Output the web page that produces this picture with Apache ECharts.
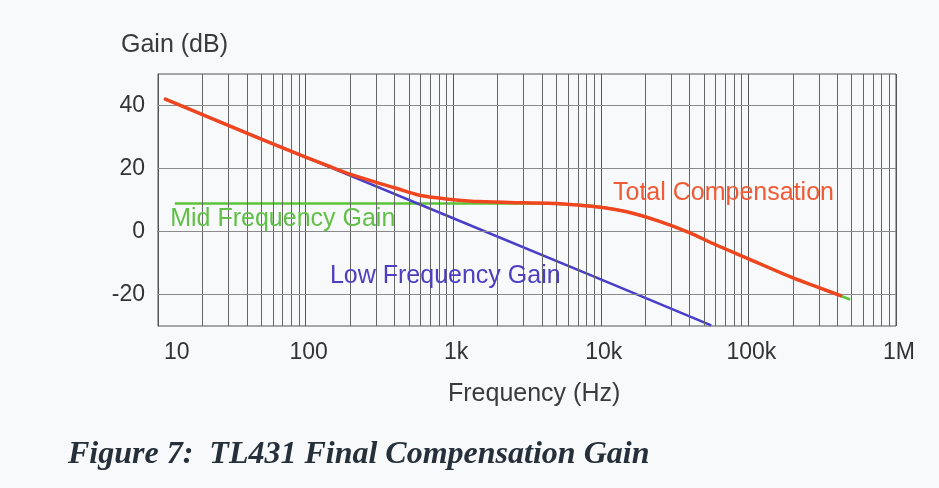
<!DOCTYPE html>
<html>
<head>
<meta charset="utf-8">
<script src="https://cdn.jsdelivr.net/npm/echarts@6/dist/echarts.min.js"></script>
<style>
html,body{margin:0;padding:0;background:#f8f9fb;}
#chart{width:939px;height:488px;}
</style>
</head>
<body>
<div id="chart"></div>
<script>
// ---- data (frequency in Hz, gain in dB) ----
const totalFreq = [11, 20, 50, 100, 150, 200, 300, 400, 590, 800, 1000, 1500, 3000, 5000, 7000, 10000, 15500, 25000, 39000, 60000, 95000, 195000, 300000, 430000];
const totalGain = [42.2, 37.1, 29.3, 23.6, 20.4, 18.2, 15.6, 13.9, 11.5, 10.6, 10.1, 9.5, 9.1, 8.9, 8.4, 7.7, 6.1, 3.2, -0.2, -4.2, -8.2, -14.5, -17.8, -20.5];

const lowFreq = [11, 100, 1000, 10000, 56000];
const lowGain = [42.2, 23.6, 4.2, -15.2, -29.8];

const midFreq = [13, 3000, 7000, 10000, 15500, 25000, 39000, 60000, 95000, 195000, 300000, 490000];
const midGain = [8.9, 8.9, 8.5, 7.8, 6.1, 3.2, -0.2, -4.2, -8.2, -14.5, -17.8, -21.6];

const xTickValues = [10, 100, 1000, 10000, 100000, 1000000];
const xTickLabels = ['10', '100', '1k', '10k', '100k', '1M'];
const yTickLabels = [40, 20, 0, -20];
const minorMultipliers = [2, 3, 4, 5, 6, 7, 8, 9];

const seriesNames = ['Mid Frequency Gain', 'Low Frequency Gain', 'Total Compensation'];
// label anchors [freq, dB]
const midLabelAt = [12, 3.8];
const lowLabelAt = [145, -14.3];
const totalLabelAt = [12000, 12.1];

// ---- build ----
const pair = (xs, ys) => xs.map((x, i) => [x, ys[i]]);
const minorGrid = [];
xTickValues.slice(0, -1).forEach(d => minorMultipliers.forEach(m => minorGrid.push(d * m)));

const chart = echarts.init(document.getElementById('chart'), null, {renderer: 'canvas'});
const FONT = 'Liberation Sans, Arial, sans-serif';

function labelPoint(coord, text, color) {
  return {
    symbol: 'circle', symbolSize: 1, silent: true,
    data: [{coord: coord, value: text}],
    label: {show: true, position: 'right', distance: 0, formatter: text,
      color: color, fontSize: 25, fontFamily: FONT},
    itemStyle: {color: 'rgba(0,0,0,0)'},
    emphasis: {disabled: true},
    animation: false
  };
}

const option = {
  backgroundColor: '#f8f9fb',
  animation: false,
  grid: {left: 158, right: 43, top: 74, bottom: 162, show: true,
    borderColor: '#555', borderWidth: 1, backgroundColor: 'transparent'},
  title: {
    text: 'Figure 7:  TL431 Final Compensation Gain',
    left: 63, top: 434,
    textStyle: {fontFamily: 'Liberation Serif, Times New Roman, serif', fontStyle: 'italic',
      fontWeight: 'bold', fontSize: 32, color: '#26303a'}
  },
  graphic: [
    {type: 'text', x: 121, y: 45, silent: true,
      style: {text: 'Gain (dB)', font: '25px ' + FONT, fill: '#3a3a3a', verticalAlign: 'middle', align: 'left'}},
    {type: 'text', x: 448, y: 394, silent: true,
      style: {text: 'Frequency (Hz)', font: '25px ' + FONT, fill: '#3a3a3a', verticalAlign: 'middle', align: 'left'}}
  ],
  xAxis: {
    type: 'log', logBase: 10, min: 10, max: 1000000,
    axisLine: {show: true, lineStyle: {color: '#555', width: 1}},
    axisTick: {show: false},
    splitLine: {show: true, lineStyle: {color: '#555', width: 1}},
    axisLabel: {
      margin: 15, fontSize: 23, fontFamily: FONT, color: '#333',
      padding: [0, 0, 0, 6], alignMinLabel: 'left',
      formatter: v => {
        const i = xTickValues.findIndex(t => Math.abs(Math.log10(t) - Math.log10(v)) < 1e-6);
        return i >= 0 ? xTickLabels[i] : '';
      }
    }
  },
  yAxis: {
    type: 'value', min: -30, max: 50, interval: 10,
    axisLine: {show: true, lineStyle: {color: '#555', width: 1}},
    axisTick: {show: false},
    splitLine: {show: false},
    axisLabel: {
      margin: 13, fontSize: 23, fontFamily: FONT, color: '#333',
      formatter: v => yTickLabels.indexOf(v) >= 0 ? String(v) : ''
    }
  },
  series: [
    {
      name: seriesNames[0], type: 'line', data: pair(midFreq, midGain),
      showSymbol: false, smooth: 0.35, z: 3,
      lineStyle: {color: '#5cc43a', width: 2.5}, itemStyle: {color: '#5cc43a'},
      markLine: {
        silent: true, symbol: ['none', 'none'], animation: false,
        label: {show: false},
        data: minorGrid.map(v => ({xAxis: v, lineStyle: {color: '#666', width: 1, type: 'solid'}}))
          .concat(yTickLabels.map(v => ({yAxis: v, lineStyle: {color: '#8a8a8a', width: 1, type: 'solid'}})))
      },
      markPoint: labelPoint(midLabelAt, seriesNames[0], '#62c048')
    },
    {
      name: seriesNames[1], type: 'line', data: pair(lowFreq, lowGain),
      showSymbol: false, z: 4,
      lineStyle: {color: '#4a3ec8', width: 2.5}, itemStyle: {color: '#4a3ec8'},
      markPoint: labelPoint(lowLabelAt, seriesNames[1], '#4c3fc0')
    },
    {
      name: seriesNames[2], type: 'line', data: pair(totalFreq, totalGain),
      showSymbol: false, smooth: 0.3, z: 5,
      lineStyle: {color: '#f0461f', width: 3.5}, itemStyle: {color: '#f0461f'},
      markPoint: labelPoint(totalLabelAt, seriesNames[2], '#f05a36')
    }
  ]
};
chart.setOption(option);
</script>
</body>
</html>
